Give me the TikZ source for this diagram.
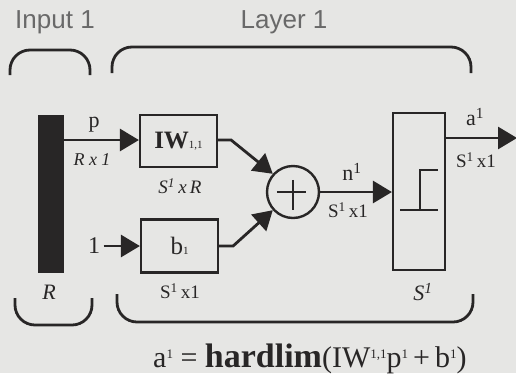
\documentclass[tikz,border=0pt]{standalone}
\usepackage{fontspec}
\setmainfont{Liberation Serif}
\newfontfamily\labsans{Liberation Sans}
\usetikzlibrary{arrows.meta}
\definecolor{bg}{RGB}{230,230,228}
\definecolor{ink}{RGB}{40,38,38}
\definecolor{lab}{RGB}{105,105,105}
\newcommand{\sone}{\textsuperscript{1}}
\newcommand{\rsup}[1]{\raisebox{0.28em}{\fontsize{13}{13}\selectfont #1}}
\begin{document}
\begin{tikzpicture}[x=1pt,y=-1pt,color=ink,
  box/.style={draw, line width=2.2pt, inner sep=0pt},
  conn/.style={line width=2.8pt, -{Triangle[length=19pt,width=22pt]}},
  brace/.style={line width=2.8pt, rounded corners=20pt},
  toplab/.style={font=\labsans\fontsize{26}{26}\selectfont, text=lab},
  dimlab/.style={font=\itshape\fontsize{19}{19}\selectfont},
  siglab/.style={font=\fontsize{22}{22}\selectfont}]
\fill[bg] (0,0) rectangle (516,373);
\useasboundingbox (0,0) rectangle (516,373);
% brackets
\draw[brace] (10,75) -- (10,50) -- (90,50) -- (90,75);
\draw[brace] (112,73) -- (112,47) -- (471,47) -- (471,73);
\draw[brace] (15,298) -- (15,325) -- (92,325) -- (92,298);
\draw[brace] (117,294) -- (117,322) -- (473,322) -- (473,294);
\node[toplab] (inlab) at (55,22) {Input 1};
\node[toplab] (laylab) at (284,22) {Layer 1};
% nodes
\node[fill=ink, minimum width=26pt, minimum height=158pt, inner sep=0pt] (bar) at (51,194) {};
\node[box, minimum width=77pt, minimum height=52pt, font=\fontsize{25}{25}\selectfont] (iw) at (178.5,141) {\textbf{IW}{\fontsize{11}{11}\selectfont 1,1}};
\node[box, minimum width=77pt, minimum height=53pt, font=\fontsize{25}{25}\selectfont] (b) at (179.5,246) {b{\fontsize{11}{11}\selectfont 1}};
\node[draw, circle, line width=2.4pt, minimum size=52pt, inner sep=0pt] (sum) at (293,192) {};
\draw[line width=2.4pt] (sum.west) ++(11,0) -- ++(29,0);
\draw[line width=2.4pt] (sum.north) ++(0,15) -- ++(0,30);
\node[box, minimum width=52pt, minimum height=157pt] (hl) at (419,191.5) {};
\draw[line width=2.2pt] (400,210) -- (438,210) (420,210) -- (420,170) -- (438,170);
\node[siglab, font=\fontsize{24}{24}\selectfont] (one) at (94,246) {1};
\coordinate (out) at (517,138);
% connectors
\draw[conn] (bar.east |- 0,140) -- (iw.west |- 0,140);
\draw[conn] (one) -- (b.west);
\draw[conn] (iw.east |- 0,140) -- ++(13,0) -- (sum.138);
\draw[conn] (b.east) -- ++(14,0) -- (sum.222);
\draw[conn] (sum.east) -- (hl.west |- sum.east);
\draw[conn] (hl.east |- out) -- (out);
% labels
\node[siglab] (plab) at (94,125) {p};
\node[dimlab, font=\itshape\fontsize{18}{18}\selectfont] (rx1) at (92,160) {R x 1};
\node[dimlab] (s1xr) at (180,186) {S\sone\,x\,R};
\node[dimlab, font=\fontsize{19}{19}\selectfont] (s1x1b) at (180,291) {S\sone\,x1};
\node[font=\itshape\fontsize{22}{22}\selectfont] (rlab) at (49,292) {R};
\node[font=\itshape\fontsize{22}{22}\selectfont] (slab) at (423,292) {S\sone};
\node[siglab] (nlab) at (352,172) {n\sone};
\node[dimlab, font=\fontsize{19}{19}\selectfont] (s1x1n) at (348,210) {S\sone\,x1};
\node[siglab] (alab) at (475,117) {a\sone};
\node[dimlab, font=\fontsize{19}{19}\selectfont] (s1x1a) at (476,160) {S\sone\,x1};
\node[anchor=base west, inner sep=0pt] (formula) at (153,367) {\fontsize{30}{30}\selectfont a\rsup{1} = {\bfseries\fontsize{34}{34}\selectfont hardlim}(IW\rsup{1,1}p\rsup{1}\,+\,b\rsup{1})};
\end{tikzpicture}
\end{document}
